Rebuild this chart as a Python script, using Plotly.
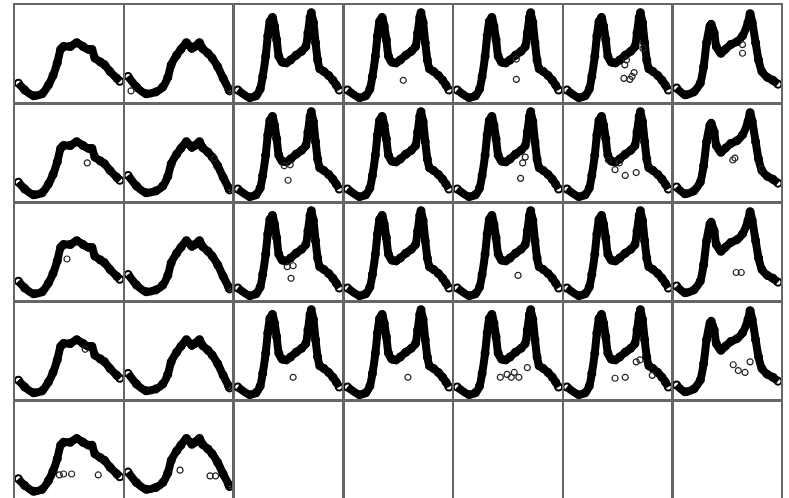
import plotly.graph_objects as go

# ---- daily profiles (hour of day, normalised flow) ----
SAT_HOURS = [0, 1.5, 3.6, 5.6, 7.1, 8.2, 9.2, 10.0, 10.7, 12.3, 13.8, 15.3, 16.6, 17.4, 18.1, 19.4, 20.4, 21.7, 23.3, 24]
SAT_VALUES = [.19, .12, .06, .08, .17, .27, .40, .54, .57, .57, .61, .57, .54, .54, .45, .41, .38, .31, .24, .21]

SUN_HOURS = [0, 2.0, 4.3, 6.6, 8.2, 9.4, 10.2, 11.5, 12.5, 13.8, 15.1, 15.8, 16.9, 17.6, 18.9, 19.9, 21.2, 22.5, 23.8, 24]
SUN_VALUES = [.26, .15, .08, .10, .15, .25, .38, .48, .54, .61, .55, .57, .61, .55, .50, .45, .36, .24, .13, .11]

WKD_HOURS = [0, 2.8, 4.3, 5.3, 5.9, 6.6, 7.1, 7.6, 8.2, 8.7, 9.2, 9.7, 10.5, 11.5, 12.5, 13.8, 15.1,
             16.1, 16.6, 17.1, 17.4, 17.9, 18.4, 18.9, 19.4, 20.4, 21.5, 22.5, 23.3, 24]
WKD_VALUES = [.12, .04, .06, .13, .26, .47, .68, .83, .87, .78, .64, .47, .41, .40, .43, .48, .52,
              .57, .71, .87, .92, .82, .61, .43, .34, .31, .27, .22, .17, .12]

FRI_HOURS = [0, 2.0, 4.1, 5.6, 6.4, 7.1, 7.9, 8.2, 8.9, 9.4, 10.5, 11.5, 12.8, 14.3, 15.6, 16.9,
             17.4, 17.9, 18.7, 19.4, 20.2, 21.5, 22.8, 24]
FRI_VALUES = [.14, .07, .10, .19, .36, .61, .78, .80, .71, .57, .50, .54, .59, .62, .68, .82,
              .91, .82, .61, .43, .31, .25, .22, .18]

# profile used by each column of the calendar grid
COLUMN_PROFILE = ["sat", "sun", "wkd", "wkd", "wkd", "wkd", "fri"]
N_DAYS = 30  # 4 full weeks + 2 days

# ---- outlying points: panel (row, col), hour, value ----
OUT_ROW = [0, 0, 0, 0, 0, 0, 0, 0, 0, 0, 0, 0, 0,
           1, 1, 1, 1, 1, 1, 1, 1, 1, 1, 1, 1, 1, 1, 1, 1,
           2, 2, 2, 2, 2, 2, 2,
           3, 3, 3, 3, 3, 3, 3, 3, 3, 3, 3, 3, 3, 3, 3, 3, 3, 3,
           4, 4, 4, 4, 4, 4, 4]
OUT_COL = [1, 3, 4, 4, 5, 5, 5, 5, 5, 5, 5, 6, 6,
           0, 1, 2, 2, 2, 4, 4, 4, 5, 5, 5, 5, 5, 6, 6, 6,
           0, 2, 2, 2, 4, 6, 6,
           0, 2, 3, 4, 4, 4, 4, 4, 4, 5, 5, 5, 5, 5, 6, 6, 6, 6,
           0, 0, 0, 0, 1, 1, 1]
OUT_HOUR = [0.7, 13.2, 14.0, 14.0, 13.7, 14.1, 13.5, 14.9, 15.4, 15.9, 18.0, 15.6, 15.6,
            16.3, 20.4, 11.0, 12.4, 11.9, 16.1, 15.5, 15.0, 9.8, 12.4, 11.4, 13.8, 16.4, 13.3, 13.8, 20.2,
            11.5, 11.7, 13.1, 12.6, 14.4, 14.1, 15.3,
            15.8, 13.1, 14.3, 10.2, 11.8, 12.8, 13.5, 14.6, 16.6, 11.4, 13.8, 16.4, 17.3, 20.2, 13.4, 14.6, 16.2, 17.4,
            9.7, 10.7, 12.6, 18.9, 12.3, 19.4, 20.7]
OUT_VALUE = [.11, .22, .44, .23, .38, .43, .24, .23, .26, .30, .55, .59, .50,
             .39, .44, .36, .37, .21, .45, .39, .23, .42, .39, .32, .26, .29, .42, .44, .33,
             .42, .34, .35, .22, .25, .28, .28,
             .51, .22, .22, .22, .25, .22, .27, .22, .32, .21, .22, .38, .40, .24, .35, .29, .27, .38,
             .23, .24, .24, .23, .28, .22, .22]
n_out = min(len(OUT_ROW), len(OUT_COL), len(OUT_HOUR), len(OUT_VALUE))

PROFILES = {
    "sat": (SAT_HOURS, SAT_VALUES),
    "sun": (SUN_HOURS, SUN_VALUES),
    "wkd": (WKD_HOURS, WKD_VALUES),
    "fri": (FRI_HOURS, FRI_VALUES),
}

W, H = 789, 498
ML, MR, MT, MB = 15, 6, 5, 0
PW, PH = W - ML - MR, H - MT - MB
COL_PITCH, ROW_PITCH = 109.7, 99.0
BOX_W, BOX_H = 108.2, 97.5

fig = go.Figure()
layout_axes = {}
for r in range(5):
    for c in range(7):
        i = r * 7 + c + 1
        xname = "x" if i == 1 else f"x{i}"
        yname = "y" if i == 1 else f"y{i}"
        left = ML + c * COL_PITCH
        top = MT + r * ROW_PITCH
        x0 = (left - ML) / PW
        x1 = min(1.0, (left + BOX_W - ML) / PW)
        y1 = max(0.0, 1 - (top - MT) / PH)
        y0 = max(0.0, 1 - (top + BOX_H - MT) / PH)
        layout_axes["xaxis" if i == 1 else f"xaxis{i}"] = dict(
            domain=[x0, x1], anchor=yname, range=[-0.8, 24.8],
            showline=True, mirror=True, linecolor="#666", linewidth=2,
            showgrid=False, zeroline=False, showticklabels=False, ticks="")
        layout_axes["yaxis" if i == 1 else f"yaxis{i}"] = dict(
            domain=[y0, y1], anchor=xname, range=[-0.01, 1.0],
            showline=True, mirror=True, linecolor="#666", linewidth=2,
            showgrid=False, zeroline=False, showticklabels=False, ticks="")
        day = r * 7 + c
        if day < N_DAYS:
            hrs, vals = PROFILES[COLUMN_PROFILE[c]]
            fig.add_trace(go.Scatter(
                x=hrs, y=vals, xaxis=xname, yaxis=yname, mode="lines+markers",
                line=dict(color="black", width=8, shape="spline", smoothing=0.6),
                marker=dict(symbol="circle-open", size=7, color="black", line=dict(width=2)),
                showlegend=False, hoverinfo="skip"))
            ox = [OUT_HOUR[k] for k in range(n_out) if OUT_ROW[k] == r and OUT_COL[k] == c]
            oy = [OUT_VALUE[k] for k in range(n_out) if OUT_ROW[k] == r and OUT_COL[k] == c]
            if ox:
                fig.add_trace(go.Scatter(
                    x=ox, y=oy, xaxis=xname, yaxis=yname, mode="markers",
                    marker=dict(symbol="circle-open", size=6, color="#222", line=dict(width=1.2)),
                    showlegend=False, hoverinfo="skip"))
        else:
            # empty calendar cell: keep the frame visible
            fig.add_trace(go.Scatter(
                x=[None], y=[None], xaxis=xname, yaxis=yname, mode="markers",
                showlegend=False, hoverinfo="skip"))

fig.update_layout(
    width=W, height=H, margin=dict(l=ML, r=MR, t=MT, b=MB, pad=0),
    paper_bgcolor="white", plot_bgcolor="white", showlegend=False,
    **layout_axes)

fig.write_html("out.html", config={"displayModeBar": False},
               post_script="document.body.style.margin='0px';document.body.style.overflow='hidden';")
